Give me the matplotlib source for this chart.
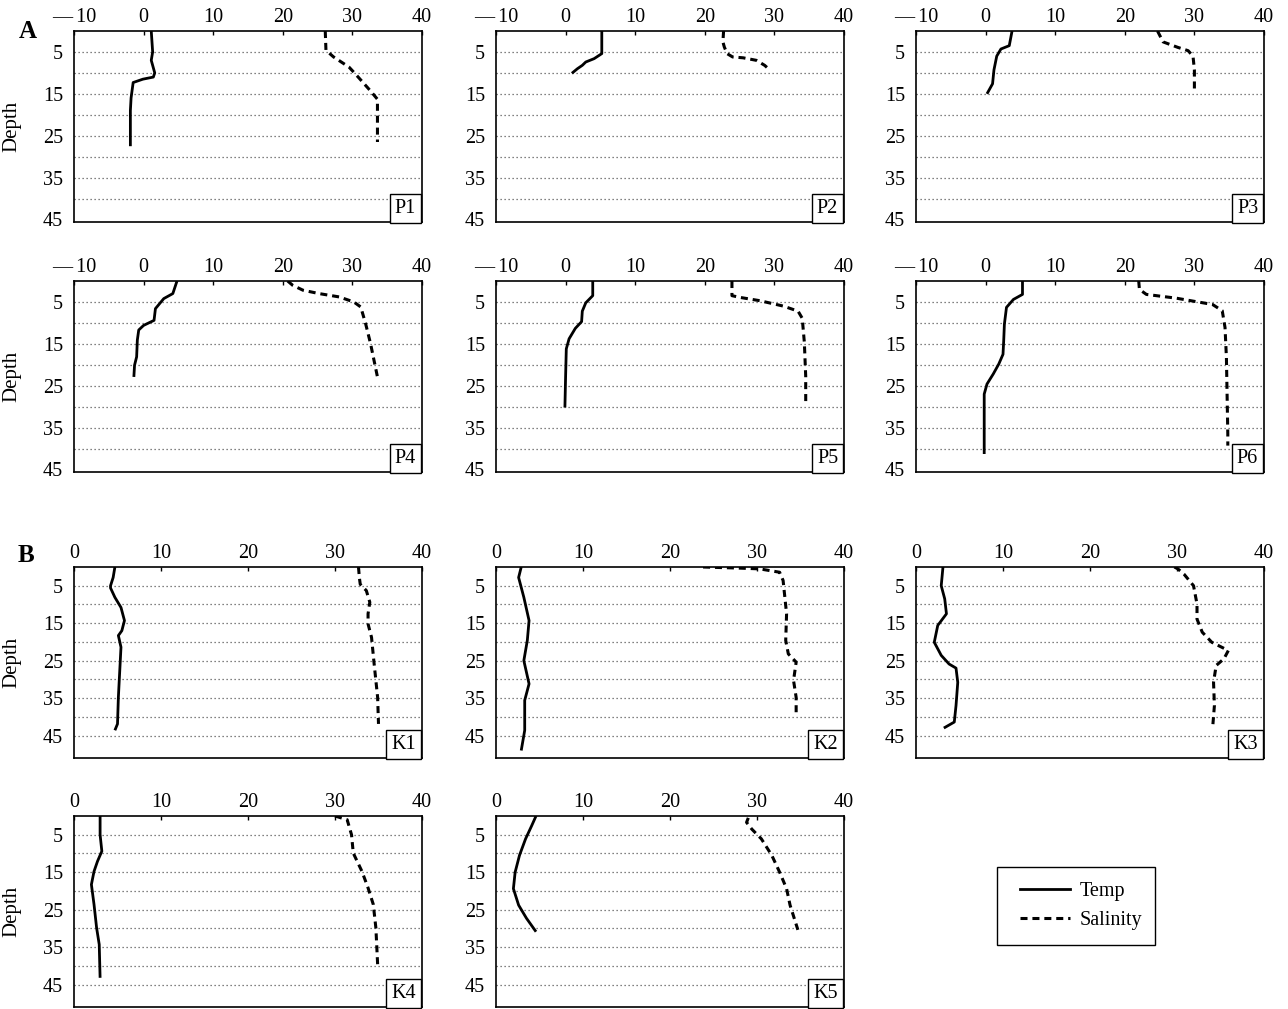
import matplotlib
matplotlib.use("Agg")
import matplotlib.pyplot as plt
from matplotlib.lines import Line2D
from matplotlib.patches import Rectangle

plt.rcParams['font.family'] = ['Liberation Serif', 'DejaVu Serif']
plt.rcParams['font.size'] = 14

# --- data (depth, value) ---
p1_t_depth = [0, 5, 7, 10, 11, 11.5, 12.3, 16, 19, 27.5]
p1_temp = [1.1, 1.3, 1.1, 1.6, 1.4, -0.1, -1.5, -1.8, -1.9, -1.9]
p1_s_depth = [0, 4.6, 6.2, 8.6, 10.2, 14.3, 16.3, 18.3, 26.5]
p1_sal = [26.1, 26.2, 27.3, 29.5, 30.4, 32.6, 33.6, 33.6, 33.6]

p2_t_depth = [0, 5.4, 6.6, 7.4, 8.2, 9.0, 10.1]
p2_temp = [5.2, 5.2, 4.1, 2.9, 2.4, 1.7, 0.9]
p2_s_depth = [0, 2.6, 3.8, 5.4, 6.2, 6.4, 7.0, 8.2, 9.4]
p2_sal = [22.7, 22.6, 22.8, 23.2, 24.0, 25.5, 27.4, 28.6, 29.4]

p3_t_depth = [0, 3.5, 4.3, 6.0, 9.3, 12.6, 15.0]
p3_temp = [3.8, 3.4, 2.2, 1.6, 1.2, 1.0, 0.2]
p3_s_depth = [0, 2.6, 3.9, 4.7, 6.0, 9.3, 14.2]
p3_sal = [24.7, 25.5, 27.6, 29.1, 29.8, 30.0, 30.0]

p4_t_depth = [0, 3.0, 4.2, 6.6, 9.4, 10.6, 11.7, 14.1, 18.1, 20.1, 22.9]
p4_temp = [4.8, 4.2, 2.9, 1.7, 1.5, 0.0, -0.7, -0.9, -1.0, -1.3, -1.4]
p4_s_depth = [0, 1.0, 2.2, 3.0, 3.8, 5.0, 6.2, 10.2, 14.9, 18.9, 22.9]
p4_sal = [20.7, 21.4, 22.9, 25.2, 28.1, 30.2, 31.2, 31.9, 32.6, 33.1, 33.6]

p5_t_depth = [0, 3.5, 5.2, 7.2, 9.7, 11.3, 13.8, 16.2, 22.8, 30.2]
p5_temp = [3.9, 3.9, 2.9, 2.4, 2.3, 1.4, 0.5, 0.1, 0.0, -0.1]
p5_s_depth = [0, 3.5, 3.9, 4.7, 6.0, 7.2, 8.9, 14.6, 22.8, 29.0]
p5_sal = [23.9, 23.9, 25.0, 27.9, 31.3, 33.4, 34.0, 34.3, 34.5, 34.5]

p6_t_depth = [0, 3.2, 4.4, 6.3, 10.3, 14.3, 17.5, 19.8, 22.2, 24.6, 27.0, 41.3]
p6_temp = [5.3, 5.3, 4.0, 3.0, 2.7, 2.6, 2.5, 1.9, 1.1, 0.2, -0.2, -0.2]
p6_s_depth = [0, 2.0, 3.2, 3.6, 4.1, 4.8, 5.6, 7.1, 11.1, 18.3, 36.5, 39.3]
p6_sal = [22.0, 22.1, 23.1, 25.0, 27.4, 29.8, 32.6, 34.0, 34.4, 34.6, 34.8, 34.8]

k1_t_depth = [0, 2.8, 5.0, 5.6, 8.1, 10.8, 14.3, 17.0, 18.3, 21.4, 25.9, 30.3, 34.8, 41.9, 43.6]
k1_temp = [4.7, 4.5, 4.2, 4.2, 4.7, 5.4, 5.8, 5.5, 5.1, 5.4, 5.3, 5.2, 5.1, 5.0, 4.7]
k1_s_depth = [0, 2.8, 4.6, 6.3, 9.4, 12.5, 15.2, 18.8, 25.9, 34.8, 41.9]
k1_sal = [32.7, 32.8, 32.9, 33.6, 34.0, 33.8, 33.8, 34.2, 34.5, 34.9, 35.0]

k2_t_depth = [0, 2.8, 8.1, 14.3, 19.6, 25.0, 31.2, 35.6, 43.6, 49.0]
k2_temp = [2.9, 2.6, 3.2, 3.8, 3.6, 3.2, 3.8, 3.3, 3.3, 2.9]
k2_s_depth = [0, 0.3, 0.5, 1.4, 3.6, 12.5, 19.6, 23.2, 25.4, 30.3, 34.8, 39.6]
k2_sal = [23.8, 28.0, 30.3, 32.6, 33.0, 33.4, 33.3, 33.6, 34.5, 34.2, 34.5, 34.5]

k3_t_depth = [0, 5.0, 8.5, 12.5, 15.6, 20.1, 23.6, 25.9, 27.0, 30.8, 37.0, 41.4, 43.0]
k3_temp = [3.1, 2.9, 3.3, 3.5, 2.5, 2.1, 2.9, 3.8, 4.6, 4.8, 4.6, 4.4, 3.2]
k3_s_depth = [0, 0.5, 1.9, 5.0, 9.9, 13.9, 17.4, 20.1, 22.3, 24.5, 26.3, 30.8, 37.0, 42.8]
k3_sal = [29.7, 30.1, 30.8, 31.9, 32.3, 32.3, 32.9, 34.0, 35.9, 35.4, 34.5, 34.2, 34.3, 34.1]

k4_t_depth = [0, 5.0, 9.4, 12.1, 14.8, 18.3, 23.6, 29.9, 34.3, 43.2]
k4_temp = [3.0, 3.0, 3.2, 2.7, 2.3, 2.0, 2.3, 2.6, 2.9, 3.0]
k4_s_depth = [0, 1.0, 5.0, 9.9, 14.8, 19.2, 23.6, 29.9, 39.6]
k4_sal = [30.0, 31.4, 31.9, 32.1, 33.1, 33.8, 34.4, 34.7, 34.9]

k5_t_depth = [0, 2.6, 6.1, 10.5, 15.0, 19.4, 23.8, 27.3, 30.9]
k5_temp = [4.6, 4.1, 3.4, 2.7, 2.2, 2.0, 2.6, 3.5, 4.6]
k5_s_depth = [0.5, 1.7, 3.5, 6.1, 10.5, 15.0, 19.4, 23.8, 30.4]
k5_sal = [29.0, 28.8, 29.4, 30.5, 31.7, 32.6, 33.4, 33.8, 34.7]

p_xticks = [-10, 0, 10, 20, 30, 40]
p_xlabels = ['\u2014\u200910', '0', '10', '20', '30', '40']
k_xticks = [0, 10, 20, 30, 40]
depth_ticks = [5, 15, 25, 35, 45]

stations = [
    ('P1', p1_t_depth, p1_temp, p1_s_depth, p1_sal),
    ('P2', p2_t_depth, p2_temp, p2_s_depth, p2_sal),
    ('P3', p3_t_depth, p3_temp, p3_s_depth, p3_sal),
    ('P4', p4_t_depth, p4_temp, p4_s_depth, p4_sal),
    ('P5', p5_t_depth, p5_temp, p5_s_depth, p5_sal),
    ('P6', p6_t_depth, p6_temp, p6_s_depth, p6_sal),
    ('K1', k1_t_depth, k1_temp, k1_s_depth, k1_sal),
    ('K2', k2_t_depth, k2_temp, k2_s_depth, k2_sal),
    ('K3', k3_t_depth, k3_temp, k3_s_depth, k3_sal),
    ('K4', k4_t_depth, k4_temp, k4_s_depth, k4_sal),
    ('K5', k5_t_depth, k5_temp, k5_s_depth, k5_sal),
]

W, H = 1288, 1009
fig = plt.figure(figsize=(W / 100, H / 100), dpi=100)

col_left = [74, 496, 916]
row_top = [31, 281, 567, 816]
ax_w, ax_h = 348, 191

sal_dash = (0, (2.3, 1.6))

for i, (name, td, tv, sd, sv) in enumerate(stations):
    if i < 6:
        r, c = divmod(i, 3)
    else:
        r, c = divmod(i - 6, 3)
        r += 2
    left = col_left[c] / W
    bottom = 1 - (row_top[r] + ax_h) / H
    ax = fig.add_axes([left, bottom, ax_w / W, ax_h / H])

    is_p = name.startswith('P')
    if is_p:
        ax.set_xlim(-10, 40)
        ax.set_ylim(45.6, 0)
        grid_depths = [5, 10, 15, 20, 25, 30, 35, 40]
    else:
        ax.set_xlim(0, 40)
        ax.set_ylim(51, 0)
        grid_depths = [5, 10, 15, 20, 25, 30, 35, 40, 45]

    for g in grid_depths:
        ax.axhline(g, color='0.35', lw=0.9, ls=(0, (1, 2.2)), zorder=1)

    ax.plot(tv, td, color='black', lw=2.0, solid_capstyle='butt', zorder=3)
    ax.plot(sv, sd, color='black', lw=2.2, ls=sal_dash, zorder=3)

    ax.xaxis.tick_top()
    if is_p:
        ax.set_xticks(p_xticks)
        ax.set_xticklabels(p_xlabels)
    else:
        ax.set_xticks(k_xticks)
    ax.set_yticks(depth_ticks)
    ax.tick_params(axis='x', direction='in', length=3, width=1, pad=3, labelsize=14.5)
    ax.tick_params(axis='y', length=0, pad=8, labelsize=14.5)
    for sp in ax.spines.values():
        sp.set_linewidth(1.2)

    if c == 0:
        ax.set_ylabel('Depth', fontsize=15)
        ax.yaxis.set_label_coords(-0.15, 0.5)

    ax.text(0.983, 0.022, name, transform=ax.transAxes, ha='right', va='bottom',
            fontsize=14.5, zorder=5,
            bbox=dict(boxstyle='square,pad=0.26', fc='white', ec='black', lw=1.0))

fig.text(28 / W, 1 - 31 / H, 'A', fontsize=18, fontweight='bold', ha='center', va='center')
fig.text(26 / W, 1 - 556 / H, 'B', fontsize=18, fontweight='bold', ha='center', va='center')

# legend box drawn separately so the inner spacing can match
fig.patches.append(Rectangle((997 / W, 1 - 945 / H), 158 / W, 78 / H,
                             transform=fig.transFigure, fill=False,
                             ec='black', lw=1.0))
handles = [Line2D([], [], color='black', lw=2.0),
           Line2D([], [], color='black', lw=2.2, ls=sal_dash)]
fig.legend(handles, ['Temp', 'Salinity'], loc='center',
           bbox_to_anchor=(1081 / W, 1 - 906 / H), borderaxespad=0,
           fontsize=14.5, handlelength=2.5, handletextpad=0.45,
           borderpad=0, labelspacing=0.45, frameon=False)

fig.savefig('out.png', dpi=100)
